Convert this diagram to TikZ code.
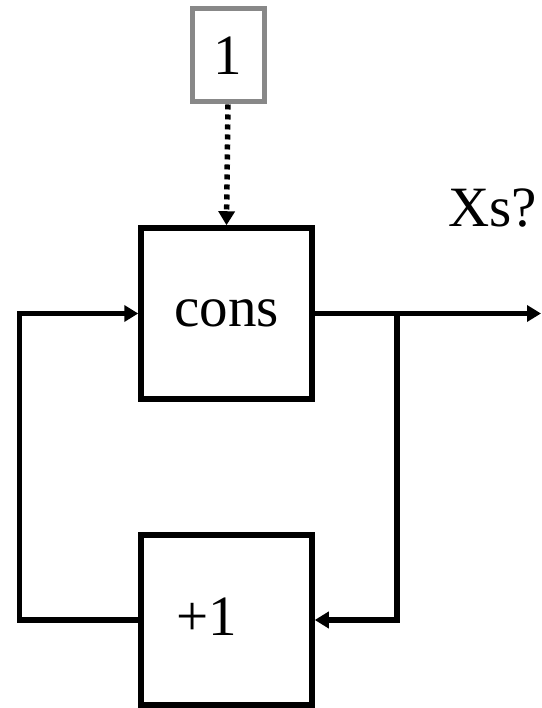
\documentclass[tikz,border=0pt]{standalone}
\usepackage{fontspec}
\setmainfont{Liberation Serif}
\definecolor{BoxGray}{HTML}{888888}
\usetikzlibrary{arrows.meta,positioning}

\begin{document}
\begin{tikzpicture}[
  x=1pt, y=1pt,
  block/.style={
    rectangle, draw=black, line width=5.5pt,
    minimum width=171pt, minimum height=171pt,
    font=\fontsize{57}{62}\selectfont, inner sep=0pt,
  },
  constbox/.style={
    block, draw=BoxGray, line width=5pt,
    minimum width=72pt, minimum height=93pt,
  },
  flow/.style={-{Triangle[length=14pt,width=16pt]}, line width=5.5pt},
  dotflow/.style={flow, dash pattern=on 5pt off 5pt},
  lbl/.style={font=\fontsize{57}{62}\selectfont, inner sep=0pt},
]
  \useasboundingbox (0,0) rectangle (541,708);

  \node[constbox] (one)  at (228,652.5) {1};
  \node[block]    (cons) at (226.5,394.5) {cons};
  \node[block, minimum height=170pt,
        label={[lbl, xshift=-20pt, yshift=3pt]center:+1}] (plus) at (226.5,88) {};
  \node[lbl] (xs) at (492.5,500) {Xs?};

  \coordinate (split) at (397,394.5);
  \coordinate (xsout) at (541,394.5);

  \draw[dotflow] (one.south) -- (cons.north);
  \draw[flow] (cons.east) -- (xsout);
  \draw[flow] (split) |- (plus.east);
  \draw[flow] (plus.west) -- ++(-119,0) |- (cons.west);
\end{tikzpicture}
\end{document}
